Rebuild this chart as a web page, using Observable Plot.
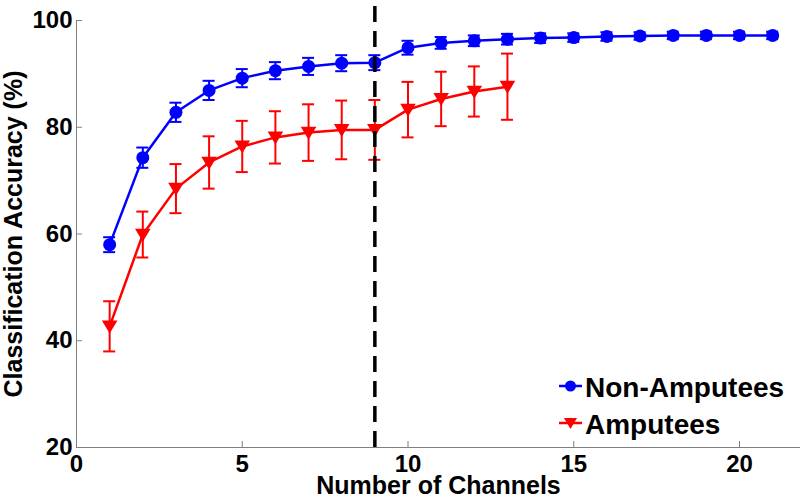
<!DOCTYPE html>
<html>
<head>
<meta charset="utf-8">
<script src="https://cdn.jsdelivr.net/npm/d3@7"></script>
<script src="https://cdn.jsdelivr.net/npm/@observablehq/plot@0.6"></script>
<style>
html, body { margin: 0; padding: 0; background: #fff; }
#chart { width: 800px; height: 497px; }
</style>
</head>
<body>
<div id="chart"></div>
<script>
// ---- data ----
const seriesNames = ["Non-Amputees", "Amputees"];
const seriesColors = ["#0000ff", "#ff0000"];

const nonAmpChannels = [1, 2, 3, 4, 5, 6, 7, 8, 9, 10, 11, 12, 13, 14, 15, 16, 17, 18, 19, 20, 21];
const nonAmpMean = [58.0, 74.3, 82.8, 86.9, 89.2, 90.6, 91.4, 92.0, 92.1, 94.9, 95.8, 96.2, 96.5, 96.7, 96.8, 97.0, 97.1, 97.2, 97.2, 97.2, 97.2];
const nonAmpErr  = [1.4, 1.9, 1.8, 1.8, 1.7, 1.6, 1.6, 1.5, 1.4, 1.3, 1.1, 1.0, 1.0, 0.9, 0.8, 0.8, 0.7, 0.7, 0.7, 0.7, 0.7];

const ampChannels = [1, 2, 3, 4, 5, 6, 7, 8, 9, 10, 11, 12, 13];
const ampMean = [42.7, 59.9, 68.5, 73.4, 76.4, 78.1, 79.0, 79.5, 79.5, 83.3, 85.3, 86.7, 87.6];
const ampErr  = [4.7, 4.3, 4.6, 4.9, 4.8, 4.9, 5.3, 5.5, 5.6, 5.2, 5.1, 4.7, 6.2];

const xTicks = [0, 5, 10, 15, 20];
const yTicks = [20, 40, 60, 80, 100];
const xDomain = [0, 21.84];
const yDomain = [20, 100];
const dividerChannel = 9;
const dividerTop = 103.7;

const xLabel = "Number of Channels";
const yLabel = "Classification Accuracy (%)";

// ---- build rows ----
const rows = [
  ...nonAmpChannels.map((c, i) => ({series: seriesNames[0], ch: c, mean: nonAmpMean[i], err: nonAmpErr[i]})),
  ...ampChannels.map((c, i) => ({series: seriesNames[1], ch: c, mean: ampMean[i], err: ampErr[i]}))
];
const blueRows = rows.filter(d => d.series === seriesNames[0]);
const redRows = rows.filter(d => d.series === seriesNames[1]);

const FONT = "'Liberation Sans', Arial, Helvetica, sans-serif";
const AXIS_GRAY = "#808080";

const triangleDown = {
  draw(context, size) {
    const r = Math.sqrt(size / Math.PI);
    const w = r * 1.2, h = r * 2.0;
    context.moveTo(-w, -h * 0.45);
    context.lineTo(w, -h * 0.45);
    context.lineTo(0, h * 0.55);
    context.closePath();
  }
};

const chart = Plot.plot({
  width: 800,
  height: 497,
  marginLeft: 76,
  marginRight: 0,
  marginTop: 20,
  marginBottom: 50,
  style: {fontFamily: FONT, background: "#fff", color: "#000"},
  x: {domain: xDomain},
  y: {domain: yDomain},
  color: {domain: seriesNames, range: seriesColors},
  marks: [
    // axis lines
    Plot.ruleY([yDomain[0]], {stroke: AXIS_GRAY, strokeWidth: 1}),
    Plot.ruleX([xDomain[0]], {y1: yDomain[0], y2: yDomain[1], stroke: AXIS_GRAY, strokeWidth: 1}),
    // inward ticks
    Plot.ruleX(xTicks, {x: d => d, y1: () => yDomain[0], y2: () => yDomain[0], insetTop: -6, stroke: AXIS_GRAY}),
    Plot.ruleY(yTicks, {y: d => d, x1: () => xDomain[0], x2: () => xDomain[0], insetRight: -6, stroke: AXIS_GRAY}),
    // tick labels
    Plot.axisX({ticks: xTicks, tickSize: 0, tickPadding: 7, fontSize: 24, fontWeight: "bold",
      label: null, tickFormat: d => String(d)}),
    Plot.axisY({ticks: yTicks, tickSize: 0, tickPadding: 4, fontSize: 24, fontWeight: "bold",
      label: null, tickFormat: d => String(d)}),
    // axis titles
    Plot.axisX({ticks: [], tickSize: 0, fontSize: 25, fontWeight: "bold",
      label: xLabel, labelAnchor: "center", labelArrow: "none", labelOffset: 46}),
    Plot.axisY({ticks: [], tickSize: 0, fontSize: 25, fontWeight: "bold",
      label: yLabel, labelAnchor: "center", labelArrow: "none", labelOffset: 72}),
    // lines
    Plot.line(rows, {x: "ch", y: "mean", stroke: "series", z: "series", strokeWidth: 2.5}),
    // error bars
    Plot.ruleX(rows, {x: "ch", y1: d => d.mean - d.err, y2: d => d.mean + d.err, stroke: "series", strokeWidth: 2}),
    Plot.ruleY(rows, {y: d => d.mean - d.err, x1: "ch", x2: "ch", insetLeft: -6, insetRight: -6, stroke: "series", strokeWidth: 2}),
    Plot.ruleY(rows, {y: d => d.mean + d.err, x1: "ch", x2: "ch", insetLeft: -6, insetRight: -6, stroke: "series", strokeWidth: 2}),
    // markers
    Plot.dot(blueRows, {x: "ch", y: "mean", r: 6.5, fill: "series", stroke: "none"}),
    Plot.dot(redRows, {x: "ch", y: "mean", r: 6.5, fill: "series", stroke: "none", symbol: triangleDown}),
    // dashed divider
    Plot.ruleX([dividerChannel], {y1: yDomain[0], y2: dividerTop, stroke: "#000", strokeWidth: 3.5, strokeDasharray: "16,9"})
  ]
});

document.getElementById("chart").appendChild(chart);

// ---- legend ----
const svg = d3.select(chart);
const lg = svg.append("g")
  .attr("font-family", FONT)
  .attr("font-weight", "bold")
  .attr("font-size", 28)
  .attr("text-anchor", "start")
  .attr("fill", "#000");
const legendRowY = [386, 423];
seriesNames.forEach((name, i) => {
  const cy = legendRowY[i];
  const g = lg.append("g").attr("transform", `translate(570.5,${cy})`);
  g.append("line").attr("x1", -11.5).attr("x2", 11.5).attr("y1", 0).attr("y2", 0)
    .attr("stroke", seriesColors[i]).attr("stroke-width", 2.5);
  if (i === 0) {
    g.append("circle").attr("r", 5.5).attr("fill", seriesColors[i]);
  } else {
    g.append("path").attr("d", "M-6.5,-5 L6.5,-5 L0,6 Z").attr("fill", seriesColors[i]);
  }
  lg.append("text").attr("x", 585).attr("y", cy + 10.5).attr("text-anchor", "start").text(name);
});
</script>
</body>
</html>
